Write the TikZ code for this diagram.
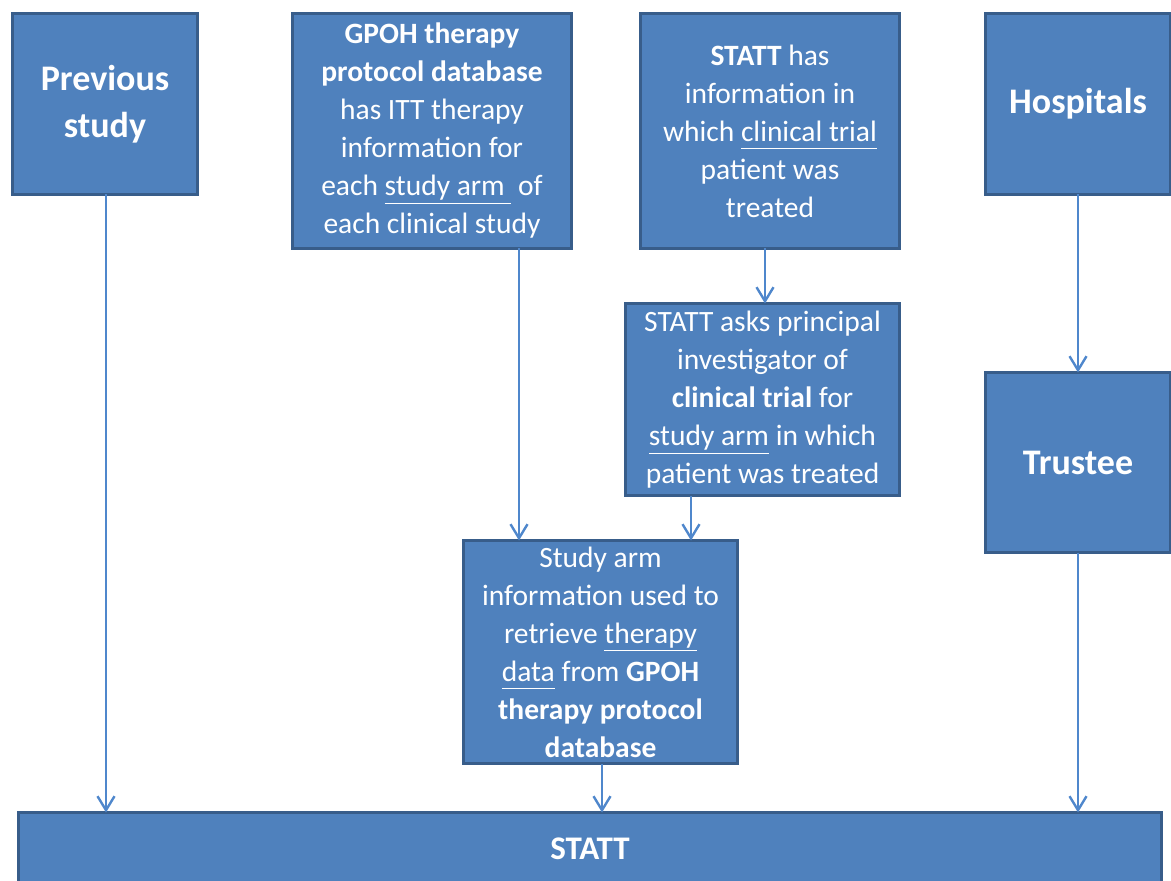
\documentclass[tikz,border=0pt]{standalone}
\usepackage{fontspec}
\setmainfont{Carlito}
\usetikzlibrary{arrows.meta}
\definecolor{boxfill}{HTML}{4F81BD}
\definecolor{boxline}{HTML}{385D8A}
\definecolor{arrowcol}{HTML}{4F87CC}
\newcommand{\myul}[1]{\underline{#1\vphantom{y}}}
\tikzset{
  box/.style={draw=boxline, fill=boxfill, line width=1.5pt, text=white,
    anchor=north west, inner sep=0pt, outer sep=0pt, align=center,
    font=\fontsize{14.75}{19}\selectfont},
  bigbox/.style={box, font=\fontsize{18}{23.5}\selectfont\bfseries},
  flow/.style={draw=arrowcol, line width=1.2pt, -{Straight Barb[length=7pt,width=8.5pt,line width=1.2pt]}}
}
\begin{document}
\begin{tikzpicture}[x=0.5pt,y=-0.5pt]
\useasboundingbox (0,0) rectangle (1171,881);
\clip (0,0) rectangle (1171,881);
\node[bigbox, minimum width=92.5pt, minimum height=90.5pt] (prev) at (12.5,13.5) {Previous\\study};
\node[box, minimum width=139.5pt, minimum height=117.5pt] (gpoh) at (292.5,13.5)
  {\textbf{GPOH therapy}\\\textbf{protocol database}\\has ITT therapy\\information for\\each \myul{study arm\ } of\\each clinical study};
\node[box, minimum width=129.5pt, minimum height=117.5pt] (has) at (640.5,13.5)
  {\textbf{STATT} has\\information in\\which \myul{clinical trial}\\patient was\\treated};
\node[bigbox, minimum width=92.5pt, minimum height=90.5pt] (hosp) at (985.5,13.5) {Hospitals};
\node[box, minimum width=137pt, minimum height=96pt] (asks) at (625.5,303.5)
  {STATT asks principal\\investigator of\\\textbf{clinical trial} for\\\myul{study arm} in which\\patient was treated};
\node[bigbox, minimum width=92.5pt, minimum height=90pt] (trustee) at (985.5,372.5) {Trustee};
\node[box, minimum width=137pt, minimum height=111.5pt] (info) at (463.5,540.5)
  {Study arm\\information used to\\retrieve \myul{therapy}\\\myul{data} from \textbf{GPOH}\\\textbf{therapy protocol}\\\textbf{database}};
\node[box, minimum width=571.5pt, minimum height=36.5pt, font=\fontsize{16.5}{20}\selectfont\bfseries] (statt) at (18.5,812.5) {STATT};
\coordinate (x106) at (106,0);
\coordinate (x519) at (519,0);
\coordinate (x765) at (765,0);
\coordinate (x691) at (691,0);
\coordinate (x602) at (602,0);
\coordinate (x1078) at (1078,0);
\draw[flow] (prev.south -| x106) -- (statt.north -| x106);
\draw[flow] (gpoh.south -| x519) -- (info.north -| x519);
\draw[flow] (has.south -| x765) -- (asks.north -| x765);
\draw[flow] (asks.south -| x691) -- (info.north -| x691);
\draw[flow] (info.south -| x602) -- (statt.north -| x602);
\draw[flow] (hosp.south -| x1078) -- (trustee.north -| x1078);
\draw[flow] (trustee.south -| x1078) -- (statt.north -| x1078);
\end{tikzpicture}
\end{document}
